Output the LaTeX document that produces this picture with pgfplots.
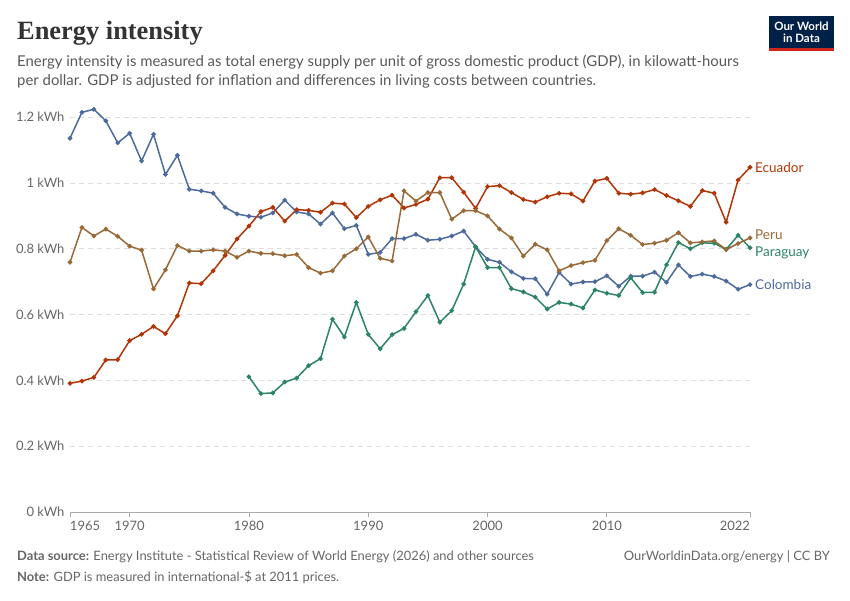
\documentclass[border=0pt]{standalone}
\usepackage{fontspec}
\setmainfont{Lato}
\newfontfamily\titlefont{Liberation Serif}
\usepackage{pgfplots}
\pgfplotsset{compat=1.18}
\definecolor{ecu}{RGB}{178,53,7}
\definecolor{per}{RGB}{153,105,55}
\definecolor{par}{RGB}{44,132,101}
\definecolor{col}{RGB}{76,106,156}
\definecolor{titlec}{RGB}{51,51,51}
\definecolor{subc}{RGB}{88,88,88}
\definecolor{tickc}{RGB}{102,102,102}
\definecolor{gridc}{RGB}{221,221,221}
\definecolor{axisc}{RGB}{170,170,170}
\definecolor{owidblue}{RGB}{0,33,71}
\definecolor{owidred}{RGB}{206,38,30}
\begin{document}
\begin{tikzpicture}
\begin{scope}[x=1pt,y=1pt]
\path[use as bounding box] (0,0) rectangle (850,600);
% title and subtitle
\node[anchor=base west, inner sep=0, text=titlec] at (17,560) {\titlefont\bfseries\fontsize{26.4}{30}\selectfont Energy intensity};
\node[anchor=base west, inner sep=0, text=subc] at (17,533) {\fontsize{14.9}{19}\selectfont Energy intensity is measured as total energy supply per unit of gross domestic product (GDP), in kilowatt-hours};
\node[anchor=base west, inner sep=0, text=subc] at (17,514) {\fontsize{14.9}{19}\selectfont per dollar. GDP is adjusted for inflation and differences in living costs between countries.};
% logo
\fill[owidblue] (769,552) rectangle (834,584);
\fill[owidred] (769,549) rectangle (834,552);
\node[anchor=base, inner sep=0, text=white] at (801.5,569) {\bfseries\fontsize{11.5}{13}\selectfont Our World};
\node[anchor=base, inner sep=0, text=white] at (801.5,557) {\bfseries\fontsize{11.5}{13}\selectfont in Data};
% footer
\node[anchor=base west, inner sep=0, text=tickc] at (17,40) {\fontsize{12.9}{15}\selectfont \textbf{Data source:} Energy Institute - Statistical Review of World Energy (2026) and other sources};
\node[anchor=base west, inner sep=0, text=tickc] at (17,19) {\fontsize{12.9}{15}\selectfont \textbf{Note:} GDP is measured in international-\$ at 2011 prices.};
\node[anchor=base east, inner sep=0, text=tickc] at (830,40) {\fontsize{12.9}{15}\selectfont OurWorldinData.org/energy | CC BY};
\end{scope}
\begin{axis}[
  at={(70pt,88pt)}, anchor=south west, scale only axis,
  width=680pt, height=411.25pt,
  xmin=1965, xmax=2022, ymin=0, ymax=1.25,
  clip=false,
  axis lines=left,
  axis line style={-},
  y axis line style={draw=none},
  x axis line style={draw=axisc, line width=0.8pt},
  ytick={0,0.2,0.4,0.6,0.8,1,1.2},
  yticklabels={0 kWh,0.2 kWh,0.4 kWh,0.6 kWh,0.8 kWh,1 kWh,1.2 kWh},
  xtick={1965,1970,1980,1990,2000,2010,2022},
  xticklabels={\makebox[0pt][l]{1965},1970,1980,1990,2000,2010,\makebox[0pt][r]{2022}},
  ytick style={draw=none},
  xtick style={draw=axisc, line width=0.8pt},
  tick align=outside,
  major tick length=5pt,
  ymajorgrids,
  major grid style={draw=gridc, line width=0.8pt, dash pattern=on 5pt off 4pt},
  ticklabel style={font=\fontsize{13}{15}\selectfont, text=tickc},
  yticklabel style={xshift=3pt},
  xticklabel style={yshift=-1pt},
  every axis plot/.append style={line width=1.5pt, mark=*, mark size=1.5pt},
]
\addplot[col, mark options={fill=col}] coordinates {
(1965,1.136)(1966,1.215)(1967,1.224)(1968,1.189)(1969,1.122)(1970,1.151)(1971,1.067)(1972,1.148)(1973,1.026)(1974,1.084)
(1975,0.981)(1976,0.976)(1977,0.969)(1978,0.926)(1979,0.906)(1980,0.899)(1981,0.896)(1982,0.909)(1983,0.948)(1984,0.912)
(1985,0.906)(1986,0.875)(1987,0.909)(1988,0.861)(1989,0.871)(1990,0.783)(1991,0.789)(1992,0.831)(1993,0.831)(1994,0.844)
(1995,0.826)(1996,0.829)(1997,0.839)(1998,0.854)(1999,0.806)(2000,0.768)(2001,0.759)(2002,0.730)(2003,0.710)(2004,0.709)
(2005,0.662)(2006,0.728)(2007,0.693)(2008,0.699)(2009,0.700)(2010,0.718)(2011,0.686)(2012,0.717)(2013,0.717)(2014,0.729)
(2015,0.698)(2016,0.751)(2017,0.716)(2018,0.723)(2019,0.716)(2020,0.702)(2021,0.677)(2022,0.691)};
\addplot[ecu, mark options={fill=ecu}] coordinates {
(1965,0.391)(1966,0.398)(1967,0.409)(1968,0.462)(1969,0.463)(1970,0.521)(1971,0.540)(1972,0.564)(1973,0.542)(1974,0.596)
(1975,0.696)(1976,0.694)(1977,0.733)(1978,0.780)(1979,0.830)(1980,0.869)(1981,0.913)(1982,0.926)(1983,0.884)(1984,0.919)
(1985,0.917)(1986,0.911)(1987,0.939)(1988,0.936)(1989,0.895)(1990,0.929)(1991,0.949)(1992,0.963)(1993,0.924)(1994,0.935)
(1995,0.951)(1996,1.016)(1997,1.016)(1998,0.972)(1999,0.923)(2000,0.989)(2001,0.992)(2002,0.971)(2003,0.950)(2004,0.942)
(2005,0.958)(2006,0.969)(2007,0.967)(2008,0.945)(2009,1.006)(2010,1.014)(2011,0.969)(2012,0.966)(2013,0.970)(2014,0.980)
(2015,0.962)(2016,0.946)(2017,0.929)(2018,0.977)(2019,0.969)(2020,0.881)(2021,1.009)(2022,1.048)};
\addplot[par, mark options={fill=par}] coordinates {
(1980,0.411)(1981,0.360)(1982,0.362)(1983,0.395)(1984,0.407)
(1985,0.445)(1986,0.466)(1987,0.586)(1988,0.532)(1989,0.637)(1990,0.540)(1991,0.496)(1992,0.539)(1993,0.558)(1994,0.609)
(1995,0.658)(1996,0.577)(1997,0.612)(1998,0.693)(1999,0.806)(2000,0.743)(2001,0.743)(2002,0.679)(2003,0.669)(2004,0.653)
(2005,0.617)(2006,0.637)(2007,0.632)(2008,0.620)(2009,0.675)(2010,0.665)(2011,0.658)(2012,0.712)(2013,0.667)(2014,0.668)
(2015,0.751)(2016,0.819)(2017,0.800)(2018,0.818)(2019,0.817)(2020,0.798)(2021,0.841)(2022,0.803)};
\addplot[per, mark options={fill=per}] coordinates {
(1965,0.759)(1966,0.865)(1967,0.839)(1968,0.860)(1969,0.838)(1970,0.808)(1971,0.796)(1972,0.678)(1973,0.736)(1974,0.810)
(1975,0.793)(1976,0.793)(1977,0.797)(1978,0.793)(1979,0.774)(1980,0.793)(1981,0.786)(1982,0.785)(1983,0.779)(1984,0.783)
(1985,0.743)(1986,0.726)(1987,0.733)(1988,0.778)(1989,0.800)(1990,0.836)(1991,0.771)(1992,0.763)(1993,0.976)(1994,0.945)
(1995,0.971)(1996,0.971)(1997,0.890)(1998,0.916)(1999,0.916)(2000,0.900)(2001,0.860)(2002,0.833)(2003,0.778)(2004,0.814)
(2005,0.797)(2006,0.733)(2007,0.749)(2008,0.758)(2009,0.765)(2010,0.825)(2011,0.861)(2012,0.841)(2013,0.813)(2014,0.817)
(2015,0.826)(2016,0.849)(2017,0.818)(2018,0.821)(2019,0.824)(2020,0.798)(2021,0.816)(2022,0.833)};
\node[anchor=west, text=ecu, inner sep=0, font=\fontsize{13.5}{15}\selectfont] at (axis cs:2022,1.048) [xshift=5pt] {Ecuador};
\node[anchor=west, text=per, inner sep=0, font=\fontsize{13.5}{15}\selectfont] at (axis cs:2022,0.842) [xshift=5pt] {Peru};
\node[anchor=west, text=par, inner sep=0, font=\fontsize{13.5}{15}\selectfont] at (axis cs:2022,0.787) [xshift=5pt] {Paraguay};
\node[anchor=west, text=col, inner sep=0, font=\fontsize{13.5}{15}\selectfont] at (axis cs:2022,0.691) [xshift=5pt] {Colombia};
\end{axis}
\end{tikzpicture}
\end{document}
